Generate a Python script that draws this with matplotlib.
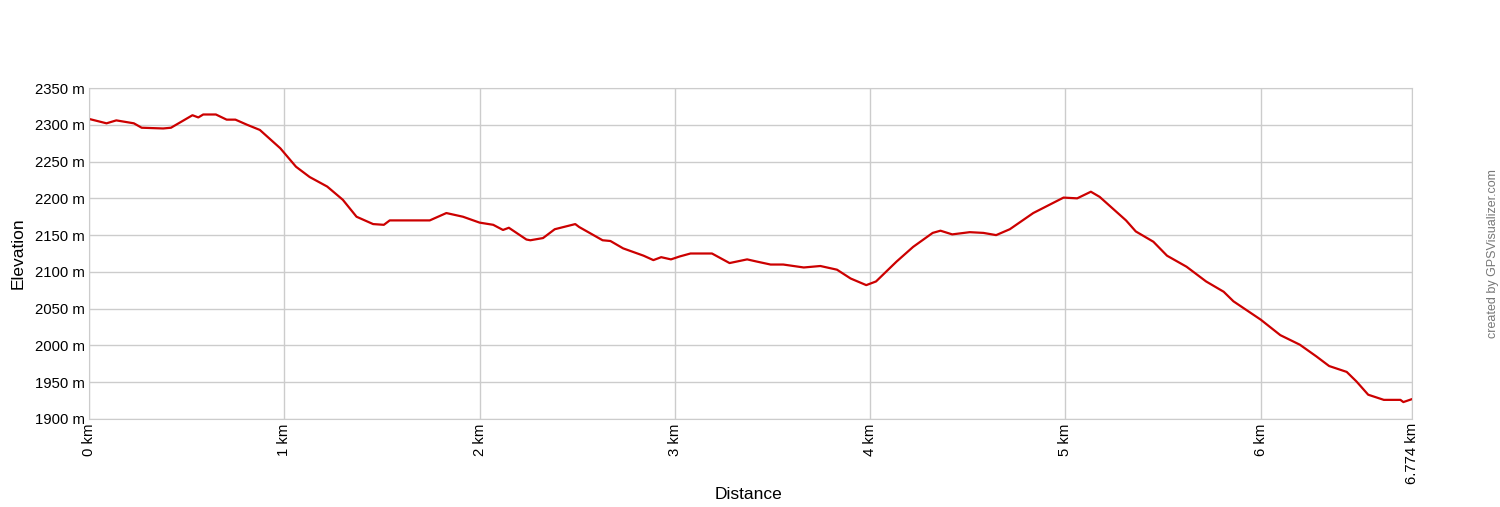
import numpy as np
import matplotlib.pyplot as plt

plt.rcParams['font.family'] = ['Liberation Sans', 'DejaVu Sans']

# distance (km) and elevation (m)
dist = [0.0, 0.09, 0.14, 0.23, 0.27, 0.38, 0.42, 0.53, 0.56, 0.585, 0.65, 0.705,
        0.75, 0.81, 0.875, 0.98, 1.06, 1.13, 1.22, 1.30, 1.37, 1.455, 1.51, 1.54,
        1.66, 1.745, 1.83, 1.915, 2.00, 2.07, 2.12, 2.15, 2.24, 2.26, 2.325, 2.385,
        2.49, 2.51, 2.63, 2.67, 2.735, 2.84, 2.89, 2.93, 2.98, 3.025, 3.08, 3.19,
        3.28, 3.37, 3.42, 3.49, 3.555, 3.66, 3.745, 3.83, 3.90, 3.98, 4.03, 4.135,
        4.22, 4.32, 4.36, 4.42, 4.51, 4.58, 4.645, 4.715, 4.835, 4.99, 5.06, 5.13,
        5.175, 5.31, 5.36, 5.45, 5.52, 5.62, 5.72, 5.81, 5.86, 6.00, 6.10, 6.20,
        6.285, 6.35, 6.44, 6.49, 6.55, 6.63, 6.715, 6.73, 6.774]
elev = [2308, 2302, 2306, 2302, 2296, 2295, 2296, 2313, 2310, 2314, 2314, 2307,
        2307, 2300, 2293, 2268, 2243, 2229, 2216, 2198, 2175, 2165, 2164, 2170,
        2170, 2170, 2180, 2175, 2167, 2164, 2157, 2160, 2144, 2143, 2146, 2158,
        2165, 2161, 2143, 2142, 2132, 2122, 2116, 2120, 2117, 2121, 2125, 2125,
        2112, 2117, 2114, 2110, 2110, 2106, 2108, 2103, 2091, 2082, 2087, 2114,
        2134, 2153, 2156, 2151, 2154, 2153, 2150, 2158, 2180, 2201, 2200, 2209,
        2202, 2170, 2155, 2141, 2122, 2107, 2087, 2073, 2060, 2035, 2014, 2001,
        1985, 1972, 1964, 1951, 1933, 1926, 1926, 1923, 1927]

xticks = [0, 1, 2, 3, 4, 5, 6, 6.774]
xtick_labels = ['0 km', '1 km', '2 km', '3 km', '4 km', '5 km', '6 km', '6.774 km']
yticks = [1900, 1950, 2000, 2050, 2100, 2150, 2200, 2250, 2300, 2350]

fig = plt.figure(figsize=(15, 5.07), dpi=100)
ax = fig.add_axes([0.0593, 0.1736, 0.8820, 0.6528])

ax.plot(dist, elev, color='#cc0000', linewidth=1.6, solid_joinstyle='round')

ax.set_xlim(0, 6.774)
ax.set_ylim(1900, 2350)
ax.set_xticks(xticks)
ax.set_xticklabels(xtick_labels, rotation=90, fontsize=10.7)
ax.set_yticks(yticks)
ax.set_yticklabels([f'{v} m' for v in yticks], fontsize=10.7)
ax.tick_params(length=0, pad=3)
ax.grid(True, color='#cccccc', linewidth=1)
ax.set_axisbelow(True)
for s in ax.spines.values():
    s.set_color('#cccccc')

fig.text(0.4993, 0.024, 'Distance', ha='center', va='center', fontsize=12.5)
fig.text(0.012, 0.5, 'Elevation', rotation=90, ha='center', va='center', fontsize=12.5)

fig.text(0.9953, 0.5, 'created by GPSVisualizer.com', rotation=90,
         ha='center', va='center', fontsize=9, color='#777777')

fig.savefig('out.png', dpi=100)
